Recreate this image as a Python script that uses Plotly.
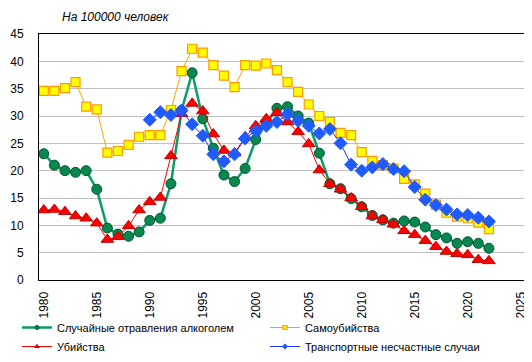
import plotly.graph_objects as go

years = list(range(1980, 2023))

alcohol = [23.1, 21.0, 20.0, 19.7, 20.0, 16.6, 9.5, 8.4, 8.0, 8.8,
           10.9, 11.3, 17.6, 31.0, 37.9, 29.5, 24.1, 19.2, 18.0, 20.4,
           25.7, 28.5, 31.4, 31.7, 30.0, 28.7, 23.2, 17.6, 16.7, 14.9,
           13.4, 11.8, 11.0, 10.4, 10.8, 10.6, 9.7, 8.3, 7.7, 6.7,
           7.0, 6.7, 5.8]

suicide = [34.6, 34.6, 35.1, 36.2, 31.7, 31.2, 23.3, 23.6, 24.7, 26.2,
           26.5, 26.5, 31.1, 38.2, 42.3, 41.6, 39.3, 37.4, 35.3, 39.3,
           39.2, 39.6, 38.4, 36.2, 34.4, 32.1, 30.0, 28.9, 26.9, 26.5,
           23.4, 21.8, 21.0, 20.4, 18.5, 17.5, 15.8, 13.8, 12.3, 11.6,
           11.3, 10.5, 9.3]

homicide = [12.8, 12.9, 12.5, 11.7, 11.3, 10.4, 7.4, 7.9, 9.9, 12.8,
            14.3, 15.1, 22.7, 30.4, 32.3, 30.9, 26.7, 23.7, 23.2, 26.2,
            28.2, 29.5, 30.6, 28.9, 27.1, 24.9, 20.1, 17.6, 16.6, 15.0,
            13.4, 11.7, 11.0, 10.2, 9.0, 8.3, 7.2, 6.1, 5.2, 4.8,
            4.6, 3.7, 3.5]

transport_years = list(range(1990, 2023))
transport = [29.3, 30.7, 30.2, 31.0, 28.5, 26.4, 23.0, 21.7, 23.0, 25.9,
             27.3, 28.2, 28.9, 30.3, 29.1, 28.2, 26.8, 27.6, 25.0, 21.1,
             20.0, 20.6, 21.2, 20.3, 19.9, 17.0, 14.7, 13.7, 12.9, 12.0,
             11.9, 11.4, 10.7]

names = ["Случайные отравления алкоголем", "Самоубийства",
         "Убийства", "Транспортные несчастные случаи"]

FONT = "Liberation Sans, Arial, sans-serif"

styles = [
    dict(line=dict(color="#0A9B68", width=2.5),
         marker=dict(symbol="circle", size=10, color="#07884F",
                     line=dict(color="#03552F", width=1))),
    dict(line=dict(color="#FFA500", width=1),
         marker=dict(symbol="square", size=9, color="#FFFF00",
                     line=dict(color="#FF9900", width=1.2))),
    dict(line=dict(color="#FF0000", width=1),
         marker=dict(symbol="triangle-up", size=11, color="#FF0000",
                     line=dict(color="#C00000", width=1))),
    dict(line=dict(color="#2233FF", width=1),
         marker=dict(symbol="diamond", size=10, color="#1F5BFF",
                     line=dict(color="#1F5BFF", width=1))),
]

series = [(years, alcohol), (years, suicide), (years, homicide),
          (transport_years, transport)]

fig = go.Figure()
for (xs, ys), st, nm in zip(series, styles, names):
    fig.add_trace(go.Scatter(x=xs, y=ys, mode="lines+markers", name=nm,
                             line=st["line"], marker=st["marker"],
                             showlegend=False))

# legend-only entries with small markers (Excel-style), in two columns
legend_ids = ["legend", "legend2", "legend", "legend2"]
for st, nm, lg in zip(styles, names, legend_ids):
    m = dict(st["marker"])
    m["size"] = 4
    fig.add_trace(go.Scatter(x=[None], y=[None], mode="lines+markers",
                             name=nm, line=st["line"], marker=m,
                             showlegend=True, legend=lg))

leg_common = dict(orientation="v", xref="container", yref="container",
                  xanchor="left", yanchor="top", font=dict(size=11),
                  tracegroupgap=0, itemwidth=30, bgcolor="rgba(0,0,0,0)")

fig.update_layout(
    width=532, height=362,
    margin=dict(l=31, r=14, t=26, b=89.5, pad=0, autoexpand=False),
    paper_bgcolor="white", plot_bgcolor="white",
    font=dict(family=FONT, size=12, color="black"),
    xaxis=dict(range=[1979.55, 2025.5], tickmode="array",
               tickvals=[1980, 1985, 1990, 1995, 2000, 2005, 2010, 2015, 2020, 2025],
               tickangle=-90, showgrid=False, zeroline=False,
               showline=True, linecolor="black", linewidth=1, mirror=True,
               ticks="", tickfont=dict(size=12), ticklabelstandoff=6,
               automargin=False),
    yaxis=dict(range=[0, 45], dtick=5, showgrid=True, gridcolor="#C0C0C0",
               gridwidth=1, zeroline=False, showline=True, linecolor="black",
               linewidth=1, mirror=True, ticks="", tickfont=dict(size=12),
               ticklabelstandoff=12, automargin=False),
    legend=dict(x=9 / 532, y=1 - 305 / 362, **leg_common),
    legend2=dict(x=257 / 532, y=1 - 305 / 362, **leg_common),
    annotations=[dict(text="На 100000 человек", xref="paper", yref="paper",
                      x=(52 - 31) / 487, y=1, xanchor="left", yanchor="bottom",
                      yshift=8, showarrow=False,
                      font=dict(size=12, style="italic"))],
)

fig.write_html("out.html")
